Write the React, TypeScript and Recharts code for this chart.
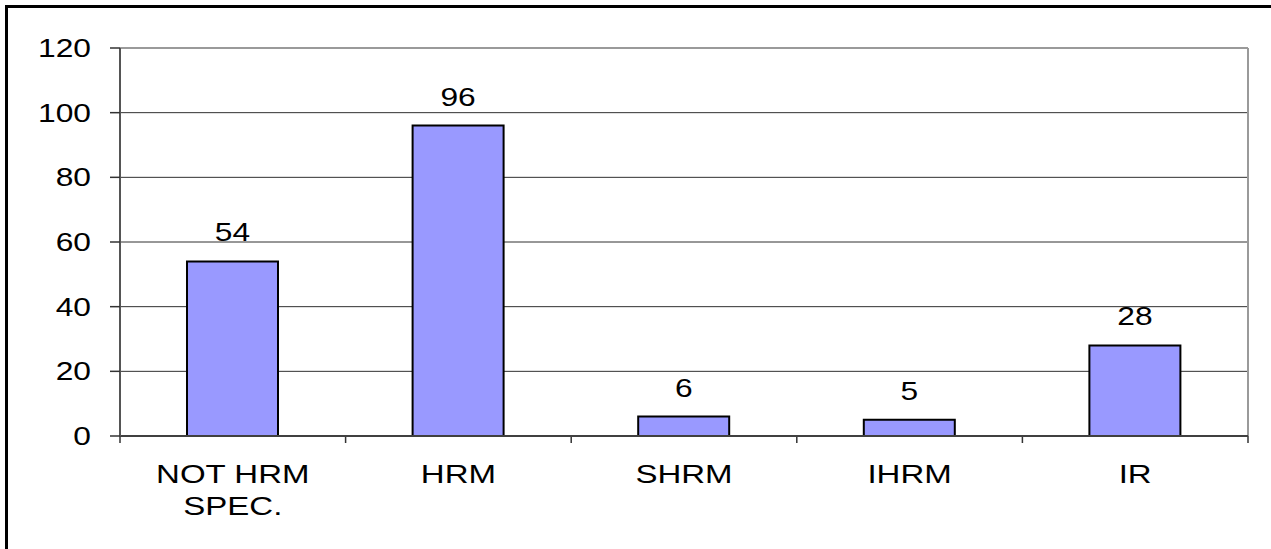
import React from "react"
import { BarChart, Bar, XAxis, YAxis, CartesianGrid, LabelList, usePlotArea } from "recharts"

const categories = ["NOT HRM\nSPEC.", "HRM", "SHRM", "IHRM", "IR"]
const counts = [54, 96, 6, 5, 28]
const yTicks = [0, 20, 40, 60, 80, 100, 120]

const data = categories.map((name, i) => ({ name, count: counts[i] }))

const FONT = "'Liberation Sans', Arial, sans-serif"
// the original text is drawn a little wider than the font's natural width
const STRETCH = 1.27

const XTick = ({ x, y, payload }: any) => {
  const lines = String(payload.value).split("\n")
  return (
    <g transform={`translate(${x},${y}) scale(${STRETCH},1)`}>
      {lines.map((line, i) => (
        <text key={i} x={0} y={47 + i * 32} textAnchor="middle" fontFamily={FONT} fontSize={26} fill="#000">
          {line}
        </text>
      ))}
    </g>
  )
}

const YTick = ({ x, y, payload }: any) => (
  <text
    transform={`translate(${x - 19},${y}) scale(${STRETCH},1)`}
    dy={9}
    textAnchor="end"
    fontFamily={FONT}
    fontSize={25}
    fill="#000"
  >
    {payload.value}
  </text>
)

const ValueLabel = ({ x, y, width, value }: any) => (
  <text
    transform={`translate(${x + width / 2},${y - 20}) scale(${STRETCH},1)`}
    textAnchor="middle"
    fontFamily={FONT}
    fontSize={25}
    fill="#000"
  >
    {value}
  </text>
)

// gray frame on top/right of the plot plus the tick marks between categories
const PlotFrame = () => {
  const area = usePlotArea()
  if (!area) return null
  const { x, y, width, height } = area
  const bottom = y + height
  const step = width / categories.length
  return (
    <g>
      <line x1={x} y1={y} x2={x + width} y2={y} stroke="#9a9a9a" strokeWidth={2} />
      <line x1={x + width} y1={y} x2={x + width} y2={bottom} stroke="#9a9a9a" strokeWidth={2} />
      {Array.from({ length: categories.length + 1 }, (_, i) => (
        <line key={i} x1={x + i * step} y1={bottom} x2={x + i * step} y2={bottom + 7} stroke="#333" strokeWidth={1.5} />
      ))}
    </g>
  )
}

export default function App() {
  return (
    <div style={{ position: "absolute", left: 0, top: 0, width: 1271, height: 549, overflow: "hidden", background: "#fff" }}>
      <div
        style={{
          position: "absolute",
          left: 5,
          top: 5,
          width: 1400,
          height: 700,
          borderLeft: "3px solid #000",
          borderTop: "3px solid #000",
        }}
      />
      <BarChart
        width={1271}
        height={549}
        data={data}
        margin={{ top: 48, right: 23, bottom: 23, left: 60 }}
        barCategoryGap={0}
      >
        <CartesianGrid horizontal vertical={false} stroke="#303030" strokeWidth={1} />
        <XAxis
          dataKey="name"
          interval={0}
          height={90}
          tickLine={false}
          tickSize={0}
          tickMargin={0}
          axisLine={{ stroke: "#404040", strokeWidth: 2 }}
          tick={<XTick />}
        />
        <YAxis
          width={60}
          domain={[0, 120]}
          ticks={yTicks}
          interval={0}
          tickSize={10}
          tickMargin={0}
          tickLine={{ stroke: "#333", strokeWidth: 1.5 }}
          axisLine={{ stroke: "#555", strokeWidth: 2 }}
          tick={<YTick />}
        />
        <Bar dataKey="count" barSize={91} fill="#9999ff" stroke="#000" strokeWidth={2} isAnimationActive={false}>
          <LabelList dataKey="count" content={<ValueLabel />} />
        </Bar>
        <PlotFrame />
      </BarChart>
    </div>
  )
}
